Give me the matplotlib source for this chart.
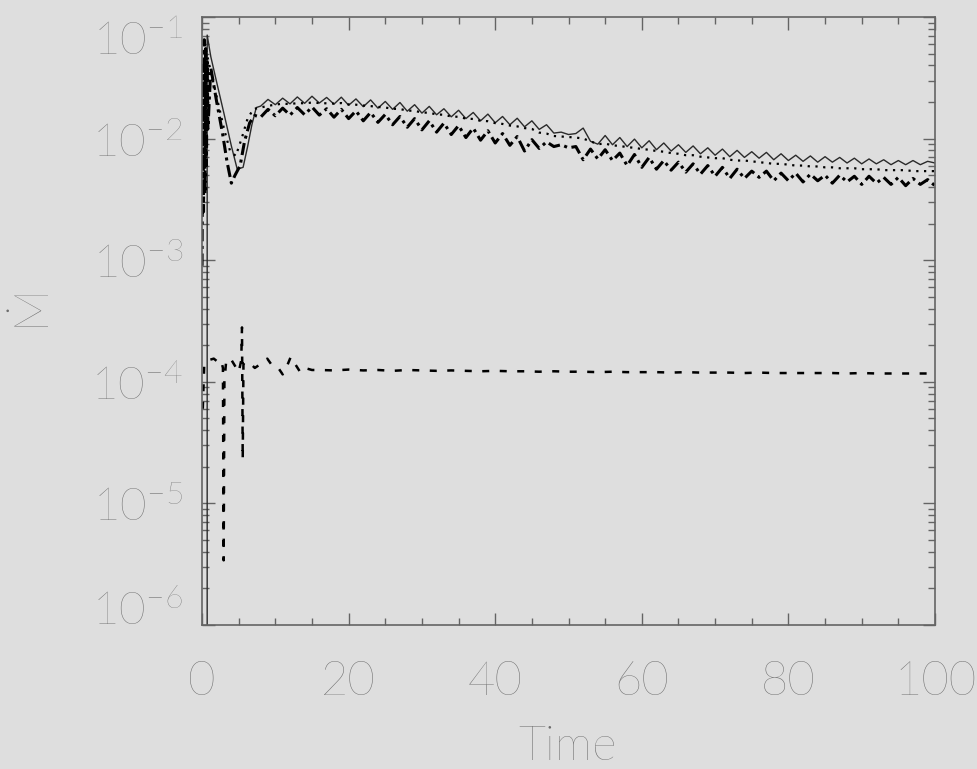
import numpy as np
import matplotlib
matplotlib.use("Agg")
import matplotlib.pyplot as plt
from matplotlib.ticker import FixedLocator, LogLocator, NullFormatter
from matplotlib.transforms import blended_transform_factory, offset_copy

plt.rcParams['font.family'] = ['Lato', 'DejaVu Sans']
plt.rcParams['mathtext.fontset'] = 'custom'
plt.rcParams['mathtext.rm'] = 'Lato:light'
plt.rcParams['mathtext.default'] = 'rm'

# time grid for the late part, t = 8 .. 100
t_late = np.arange(8, 101, 1)

# solid curve (units of 1e-3)
solid_t0 = [0.7, 0.7, 1.2, 2.0, 3.0, 4.0, 4.8, 5.6, 6.2, 6.8, 7.4]
solid_v0 = [1e-5, 71, 47, 29, 16, 8.7, 5.6, 5.8, 8.5, 13, 18]
solid_v1 = [18.5, 21.0, 19.0, 21.5, 19.3, 22.0, 19.5, 22.3, 19.6, 21.8,
            19.2, 21.9, 18.8, 21.2, 18.3, 20.8, 17.8, 20.2, 17.4, 19.8,
            16.8, 19.0, 16.2, 18.4, 15.7, 17.6, 15.1, 17.1, 14.6, 16.4,
            14.0, 15.9, 13.5, 15.2, 13.0, 14.7, 12.5, 14.0, 11.9, 13.0,
            11.1, 11.3, 10.8, 11.0, 12.2, 9.5, 9.0, 10.6, 8.9, 10.2,
            8.6, 9.9, 8.4, 9.6, 8.1, 9.2, 7.9, 8.9, 7.7, 8.7,
            7.5, 8.4, 7.3, 8.2, 7.1, 8.0, 7.0, 7.8, 6.9, 7.7,
            6.7, 7.5, 6.6, 7.3, 6.5, 7.2, 6.4, 7.1, 6.4, 7.0,
            6.3, 6.9, 6.2, 6.8, 6.2, 6.7, 6.1, 6.6, 6.1, 6.6,
            6.1, 6.5, 6.3]

# dotted curve (units of 1e-3)
dot_t0 = [0.3, 1.0, 2.0, 3.0, 3.8, 4.6, 5.4, 6.2, 7.0]
dot_v0 = [62, 40, 22, 12, 8.0, 7.2, 10.0, 14.5, 17.5]
dot_v1 = [18.0, 18.6, 19.0, 19.4, 19.2, 19.6, 19.5, 19.8, 19.6, 19.5,
          19.4, 19.6, 19.1, 19.0, 18.7, 18.5, 18.2, 18.0, 17.6, 17.5,
          17.0, 16.9, 16.4, 16.3, 15.8, 15.7, 15.2, 15.1, 14.6, 14.5,
          14.0, 13.9, 13.4, 13.2, 12.8, 12.6, 12.2, 12.0, 11.2, 11.0,
          10.5, 10.4, 10.3, 10.2, 10.0, 9.5, 9.0, 9.1, 8.8, 8.7,
          8.5, 8.4, 8.2, 8.1, 7.9, 7.8, 7.6, 7.5, 7.3, 7.3,
          7.1, 7.0, 6.9, 6.9, 6.7, 6.6, 6.6, 6.5, 6.4, 6.3,
          6.2, 6.2, 6.1, 6.0, 6.0, 5.9, 5.9, 5.8, 5.8, 5.7,
          5.7, 5.7, 5.6, 5.6, 5.6, 5.5, 5.5, 5.5, 5.5, 5.4,
          5.4, 5.4, 5.4]

# dash-dot curve (units of 1e-3)
dd_t0 = [0.0, 0.1, 0.2, 0.3, 0.4, 0.5, 0.6, 0.7, 0.8, 1.2, 2.0, 2.8, 3.4,
         4.0, 4.5, 5.2, 5.8, 6.5, 7.2]
dd_v0 = [0.9, 40, 2.5, 65, 3.5, 55, 6, 45, 12, 38, 20, 11, 6.5,
         4.3, 5.0, 6.0, 9.5, 13.5, 15.5]
dd_v1 = [15.0, 17.4, 15.4, 17.8, 15.6, 18.0, 15.7, 18.2, 15.6, 17.6,
         15.0, 17.4, 14.6, 16.9, 14.0, 16.4, 13.6, 15.8, 13.0, 15.2,
         12.4, 14.6, 11.8, 14.0, 11.3, 13.4, 10.8, 12.8, 10.2, 12.2,
         9.7, 11.6, 9.2, 11.0, 8.8, 10.4, 7.9, 9.8, 8.3, 9.4,
         8.6, 8.9, 8.4, 8.6, 6.7, 8.2, 6.8, 8.1, 6.6, 7.6,
         6.0, 7.4, 5.8, 7.0, 5.6, 6.6, 5.5, 6.4, 5.3, 6.2,
         5.1, 6.0, 4.9, 5.8, 4.7, 5.6, 4.7, 5.4, 4.8, 5.4,
         4.5, 5.2, 4.5, 5.2, 4.4, 5.1, 4.5, 5.0, 4.3, 5.0,
         4.4, 4.9, 4.2, 4.9, 4.3, 4.8, 4.2, 4.8, 4.1, 4.7,
         4.2, 4.6, 4.1]

# dashed curve (units of 1e-4)
dash_t0 = [0.1, 0.3, 0.8, 1.6, 2.2, 2.6, 2.85, 2.95, 3.05, 3.3, 3.9, 4.5,
           5.0, 5.35, 5.45, 5.55, 5.65, 5.9, 6.4, 7.2, 8.0, 8.9, 9.6, 10.4,
           11.0, 11.6, 12.1, 12.7, 13.4, 14.0, 15.0]
dash_v0 = [0.6, 1.4, 1.5, 1.55, 1.45, 1.5, 1.3, 0.034, 1.0, 1.5, 1.55, 1.35,
           1.2, 1.5, 2.8, 0.23, 1.4, 1.45, 1.45, 1.3, 1.4, 1.55, 1.35, 1.3,
           1.15, 1.35, 1.6, 1.4, 1.2, 1.3, 1.25]
dash_t1 = np.arange(16, 101, 2)
dash_v1 = [1.25, 1.24, 1.26, 1.24, 1.25, 1.23, 1.25, 1.24, 1.23, 1.24,
           1.23, 1.22, 1.23, 1.22, 1.22, 1.21, 1.22, 1.21, 1.21, 1.20,
           1.21, 1.20, 1.20, 1.20, 1.19, 1.20, 1.19, 1.19, 1.19, 1.18,
           1.19, 1.18, 1.18, 1.18, 1.18, 1.18, 1.17, 1.18, 1.17, 1.17,
           1.17, 1.17, 1.17]

xticks = [0, 20, 40, 60, 80, 100]
ytick_vals = [1e-1, 1e-2, 1e-3, 1e-4, 1e-5, 1e-6]
ytick_labels = ['$10^{-1}$', '$10^{-2}$', '$10^{-3}$', '$10^{-4}$', '$10^{-5}$', '$10^{-6}$']
ytick_shift = [-38, -18, -18, -18, -18, 0]

bg = '#dedede'
axcol = '#646464'
txtcol = '#6c6c6c'

fig = plt.figure(figsize=(9.77, 7.69), dpi=100, facecolor=bg)
ax = fig.add_axes([0.2068, 0.1873, 0.7502, 0.7906], facecolor=bg)

ax.plot(np.concatenate([solid_t0, t_late]), np.array(solid_v0 + solid_v1) * 1e-3,
        color='#2a2a2a', lw=1.0, ls='-')
ax.plot(np.concatenate([dot_t0, t_late]), np.array(dot_v0 + dot_v1) * 1e-3,
        color='black', lw=1.6, ls=(0, (1, 2.5)))
ax.plot(np.concatenate([dd_t0, t_late]), np.array(dd_v0 + dd_v1) * 1e-3,
        color='black', lw=2.2, ls=(0, (4, 1.5, 1, 1.5)))
ax.plot(np.concatenate([dash_t0, dash_t1]), np.array(dash_v0 + dash_v1) * 1e-4,
        color='black', lw=1.8, ls=(0, (2.8, 4.2)))

ax.set_yscale('log')
ax.set_xlim(0, 100)
ax.set_ylim(1e-6, 1e-1)

ax.xaxis.set_major_locator(FixedLocator(xticks))
ax.xaxis.set_minor_locator(FixedLocator(np.arange(0, 101, 5)))
ax.set_xticklabels([str(v) for v in xticks])
ax.yaxis.set_major_locator(FixedLocator(ytick_vals))
ax.yaxis.set_minor_locator(LogLocator(base=10, subs=np.arange(2, 10)))
ax.yaxis.set_major_formatter(NullFormatter())
ax.yaxis.set_minor_formatter(NullFormatter())

ax.tick_params(which='both', direction='in', top=True, right=True,
               color=axcol, width=1.0)
ax.tick_params(which='major', length=9)
ax.tick_params(which='minor', length=5)
ax.tick_params(axis='x', which='major', pad=26, labelsize=34,
               labelcolor=txtcol)
for lab in ax.get_xticklabels():
    lab.set_fontweight('light')
for s in ax.spines.values():
    s.set_color(axcol)
    s.set_linewidth(1.2)

trans = blended_transform_factory(ax.transAxes, ax.transData)
for v, lab, dy in zip(ytick_vals, ytick_labels, ytick_shift):
    ax.text(-0.026, v, lab, transform=offset_copy(trans, fig=fig, y=dy, units='dots'),
            ha='right', va='baseline', fontsize=33, color=txtcol,
            fontweight='light')

fig.text(568 / 977, 1 - 748 / 769, 'Time', ha='center', va='center',
         fontsize=34, color=txtcol, fontweight='light')
fig.text(31 / 977, 1 - 305 / 769, 'Ṁ', ha='center', va='center', rotation=90,
         fontsize=34, color=txtcol, fontweight='light')

fig.savefig('out.png', dpi=100, facecolor=bg)
